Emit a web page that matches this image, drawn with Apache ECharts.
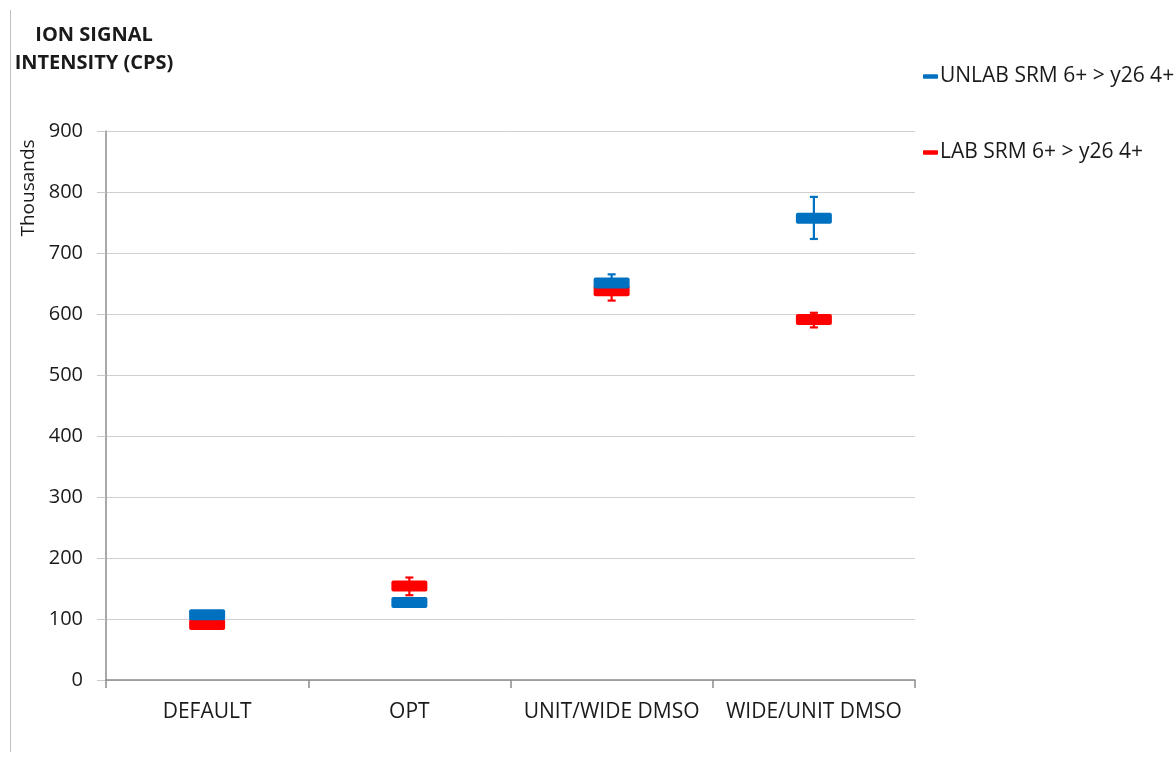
<!DOCTYPE html>
<html><head><meta charset="utf-8">
<script src="https://cdn.jsdelivr.net/npm/echarts@6/dist/echarts.min.js"></script>
<style>html,body{margin:0;padding:0;background:#fff}#c{width:1176px;height:769px}</style>
</head><body><div id="c"></div>
<script>
var categories = ['DEFAULT', 'OPT', 'UNIT/WIDE DMSO', 'WIDE/UNIT DMSO'];
var unlabName = 'UNLAB SRM 6+ > y26 4+';
var labName = 'LAB SRM 6+ > y26 4+';
var unlabValues = [107, 127, 651, 757];
var unlabLow = [103, 120, 637, 723];
var unlabHigh = [111, 134, 665, 792];
var labValues = [91, 154, 638, 591];
var labLow = [87, 139, 622, 578];
var labHigh = [95, 168, 652, 602];
var yTicks = [0, 100, 200, 300, 400, 500, 600, 700, 800, 900];

var BLUE = '#0070C0', RED = '#FF0000';
var FONT = 'Open Sans';
var DASH = 'path://M2,0 H34 Q36,0 36,2 V9 Q36,11 34,11 H2 Q0,11 0,9 V2 Q0,0 2,0 Z';

function errData(low, high) {
  return categories.map(function (c, i) { return [i, low[i], high[i]]; });
}
function errSeries(low, high, color) {
  return {
    type: 'custom', silent: true, z: 1,
    data: errData(low, high),
    encode: { x: 0, y: [1, 2] },
    renderItem: function (params, api) {
      var x = api.coord([api.value(0), 0])[0];
      var y1 = api.coord([api.value(0), api.value(1)])[1];
      var y2 = api.coord([api.value(0), api.value(2)])[1];
      var w = 4;
      var st = { stroke: color, lineWidth: 2.2 };
      return { type: 'group', children: [
        { type: 'line', shape: { x1: x, y1: y1, x2: x, y2: y2 }, style: st },
        { type: 'line', shape: { x1: x - w, y1: y1, x2: x + w, y2: y1 }, style: st },
        { type: 'line', shape: { x1: x - w, y1: y2, x2: x + w, y2: y2 }, style: st }
      ]};
    }
  };
}

var chart = echarts.init(document.getElementById('c'), null, { renderer: 'canvas' });
chart.setOption({
  animation: false,
  backgroundColor: '#fff',
  textStyle: { fontFamily: FONT },
  title: {
    text: 'ION SIGNAL\nINTENSITY (CPS)',
    left: 89, top: 16, textAlign: 'center',
    textStyle: { fontFamily: FONT, fontWeight: 'bold', fontSize: 20, lineHeight: 28, color: '#1a1a1a' }
  },
  legend: {
    orient: 'vertical', left: 918, top: 61, itemGap: 55,
    icon: DASH, itemWidth: 15, itemHeight: 5,
    data: [unlabName, labName],
    textStyle: { fontFamily: FONT, fontSize: 21, color: '#1a1a1a', padding: [0, 0, 0, -3] }
  },
  graphic: [
    { type: 'line', shape: { x1: 10.5, y1: 10, x2: 10.5, y2: 752 }, style: { stroke: '#bfbfbf', lineWidth: 1 } },
    { type: 'text', x: 29, y: 188, rotation: Math.PI / 2,
      style: { text: 'Thousands', fontFamily: FONT, fontSize: 19, fill: '#1a1a1a', align: 'center', verticalAlign: 'middle' } }
  ],
  grid: { left: 106, right: 261, top: 131, bottom: 89, containLabel: false },
  xAxis: {
    type: 'category', data: categories, boundaryGap: true,
    axisLine: { show: true, lineStyle: { color: '#8c8c8c', width: 1.5 } },
    axisTick: { show: true, interval: 0, length: 8, lineStyle: { color: '#8c8c8c', width: 1.5 } },
    axisLabel: { interval: 0, margin: 22, fontFamily: FONT, fontSize: 21, color: '#1a1a1a' },
    splitLine: { show: false }
  },
  yAxis: {
    type: 'value', min: 0, max: 900, interval: 100,
    axisLine: { show: true, lineStyle: { color: '#8c8c8c', width: 1.5 } },
    axisTick: { show: true, length: 9, lineStyle: { color: '#c8c8c8' } },
    axisLabel: { margin: 23, fontFamily: FONT, fontSize: 20, color: '#1a1a1a',
      formatter: function (v) { return yTicks.indexOf(v) >= 0 ? String(v) : ''; } },
    splitLine: { show: true, lineStyle: { color: '#d0d0d0', width: 1 } }
  },
  series: [
    errSeries(labLow, labHigh, RED),
    errSeries(unlabLow, unlabHigh, BLUE),
    { name: labName, type: 'scatter', z: 3, data: labValues, symbol: DASH, symbolKeepAspect: false, symbolSize: [36, 11], itemStyle: { color: RED, opacity: 1 } },
    { name: unlabName, type: 'scatter', z: 4, data: unlabValues, symbol: DASH, symbolKeepAspect: false, symbolSize: [36, 11], itemStyle: { color: BLUE, opacity: 1 } }
  ]
});
</script></body></html>
